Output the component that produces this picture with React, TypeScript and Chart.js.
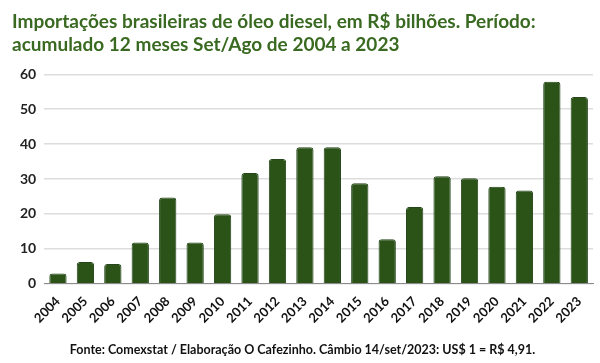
import React, { useEffect, useRef } from "react";
import { Chart, registerables } from "chart.js";

Chart.register(...registerables);

const years = ["2004","2005","2006","2007","2008","2009","2010","2011","2012","2013","2014","2015","2016","2017","2018","2019","2020","2021","2022","2023"];
const values = [2.9, 6.2, 5.6, 11.8, 24.7, 11.8, 19.9, 31.7, 35.7, 39.1, 39.1, 28.8, 12.7, 22.0, 30.8, 30.2, 27.8, 26.7, 57.9, 53.5];
const titleLines = ["Importações brasileiras de óleo diesel, em R$ bilhões. Período:", "acumulado 12 meses Set/Ago de 2004 a 2023"];
const footerText = "Fonte: Comexstat / Elaboração O Cafezinho. Câmbio 14/set/2023: US$ 1 = R$ 4,91.";

export default function App() {
  const ref = useRef<HTMLCanvasElement | null>(null);
  useEffect(() => {
    if (!ref.current) return;
    const chart = new Chart(ref.current, {
      type: "bar",
      data: {
        labels: years,
        datasets: [{
          data: values,
          backgroundColor: "#2b5318",
          borderColor: "#24461a",
          borderWidth: 1,
          borderRadius: 3,
          borderSkipped: "bottom",
          categoryPercentage: 1,
          barPercentage: 0.63,
        }],
      },
      options: {
        animation: false,
        responsive: true,
        maintainAspectRatio: false,
        layout: { padding: { left: 12, right: 7, top: 4, bottom: 6 } },
        plugins: {
          legend: { display: false },
          tooltip: { enabled: false },
          title: {
            display: true,
            text: titleLines,
            align: "start",
            color: "#3a6a22",
            font: { family: "Lato", size: 19, weight: "bold", lineHeight: 1.22 },
            padding: { top: 6, bottom: 18 },
          },
          subtitle: {
            display: true,
            position: "bottom",
            text: footerText,
            align: "center",
            color: "#111",
            font: { family: "Lato", size: 12.5, weight: "bold" },
            padding: { top: 14, bottom: 0 },
          },
        },
        scales: {
          x: {
            grid: { display: false },
            border: { color: "#8c8c8c", width: 1 },
            ticks: {
              maxRotation: 45,
              minRotation: 45,
              color: "#111",
              font: { family: "Lato", size: 13, weight: "bold" },
              padding: 2,
            },
          },
          y: {
            min: 0,
            max: 60,
            ticks: {
              stepSize: 10,
              color: "#222",
              font: { family: "Lato", size: 14, weight: "bold" },
              padding: 8,
            },
            grid: { color: "#dddddd", lineWidth: 1.5, drawTicks: false },
            border: { display: false },
          },
        },
      },
    });
    return () => chart.destroy();
  }, []);
  return (
    <div style={{ position: "fixed", left: 0, top: 0, width: 600, height: 363, background: "#fff" }}>
      <canvas ref={ref} />
    </div>
  );
}
